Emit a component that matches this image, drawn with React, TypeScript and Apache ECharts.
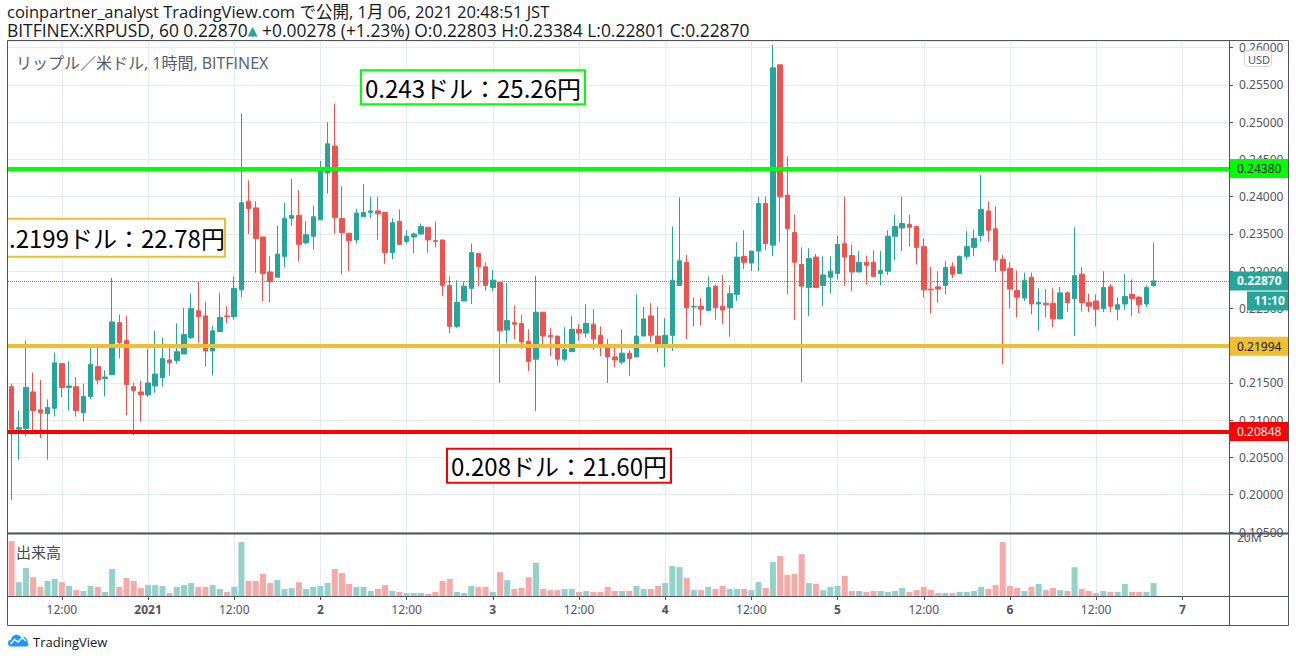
import React, { useEffect, useRef } from "react";
import * as echarts from "echarts";

// ---- data (XRP/USD, 1h, BITFINEX, Dec 31 05:00 – Jan 6 20:00 JST) ----
const opens = [
  0.2145, 0.2088, 0.2089, 0.2138, 0.2114, 0.2109, 0.2116, 0.2176, 0.2144, 0.2145,
  0.2110, 0.2132, 0.2172, 0.2156, 0.2161, 0.2231, 0.2207, 0.2145, 0.2138, 0.2134,
  0.2146, 0.2157, 0.2181, 0.2180, 0.2189, 0.2211, 0.2247, 0.2240, 0.2193, 0.2219,
  0.2240, 0.2239, 0.2275, 0.2394, 0.2385, 0.2346, 0.2299, 0.2292, 0.2320, 0.2371,
  0.2375, 0.2338, 0.2347, 0.2369, 0.2432, 0.2468, 0.2371, 0.2351, 0.2342, 0.2373,
  0.2379, 0.2381, 0.2379, 0.2325, 0.2367, 0.2340, 0.2346, 0.2350, 0.2359, 0.2341,
  0.2342, 0.2281, 0.2226, 0.2260, 0.2277, 0.2324, 0.2306, 0.2278, 0.2285, 0.2221,
  0.2231, 0.2230, 0.2206, 0.2182, 0.2245, 0.2214, 0.2213, 0.2182, 0.2192, 0.2222,
  0.2217, 0.2229, 0.2214, 0.2197, 0.2185, 0.2178, 0.2190, 0.2185, 0.2213, 0.2240,
  0.2213, 0.2199, 0.2214, 0.2281, 0.2312, 0.2252, 0.2253, 0.2247, 0.2280, 0.2253,
  0.2251, 0.2269, 0.2320, 0.2311, 0.2327, 0.2391, 0.2335, 0.2577, 0.2402, 0.2352,
  0.2309, 0.2278, 0.2319, 0.2281, 0.2292, 0.2297, 0.2337, 0.2321, 0.2299, 0.2312,
  0.2312, 0.2297, 0.2300, 0.2347, 0.2358, 0.2363, 0.2360, 0.2333, 0.2276, 0.2279,
  0.2281, 0.2306, 0.2297, 0.2320, 0.2332, 0.2348, 0.2381, 0.2357, 0.2316, 0.2304,
  0.2274, 0.2264, 0.2292, 0.2256, 0.2257, 0.2257, 0.2236, 0.2271, 0.2263, 0.2296,
  0.2258, 0.2260, 0.2250, 0.2279, 0.2249, 0.2256, 0.2269, 0.2265, 0.2256, 0.22803,
];
const closes = [
  0.2088, 0.2090, 0.2144, 0.2113, 0.2110, 0.2117, 0.2177, 0.2144, 0.2146, 0.2113,
  0.2132, 0.2175, 0.2154, 0.2158, 0.2232, 0.2204, 0.2148, 0.2140, 0.2134, 0.2150,
  0.2162, 0.2183, 0.2177, 0.2192, 0.2215, 0.2250, 0.2239, 0.2193, 0.2220, 0.2238,
  0.2239, 0.2277, 0.2392, 0.2384, 0.2344, 0.2297, 0.2286, 0.2323, 0.2371, 0.2375,
  0.2336, 0.2349, 0.2373, 0.2434, 0.2471, 0.2372, 0.2352, 0.2341, 0.2378, 0.2379,
  0.2381, 0.2377, 0.2325, 0.2365, 0.2336, 0.2347, 0.2350, 0.2360, 0.2342, 0.2340,
  0.2281, 0.2226, 0.2258, 0.2280, 0.2325, 0.2306, 0.2281, 0.2288, 0.2220, 0.2234,
  0.2229, 0.2205, 0.2179, 0.2245, 0.2213, 0.2212, 0.2182, 0.2195, 0.2222, 0.2217,
  0.2230, 0.2209, 0.2202, 0.2185, 0.2181, 0.2190, 0.2183, 0.2213, 0.2236, 0.2214,
  0.2199, 0.2214, 0.2288, 0.2314, 0.2251, 0.2253, 0.2249, 0.2278, 0.2251, 0.2248,
  0.2270, 0.2319, 0.2312, 0.2327, 0.2391, 0.2337, 0.2573, 0.2400, 0.2357, 0.2312,
  0.2280, 0.2317, 0.2278, 0.2295, 0.2300, 0.2336, 0.2319, 0.2299, 0.2312, 0.2308,
  0.2293, 0.2301, 0.2347, 0.2360, 0.2364, 0.2359, 0.2332, 0.2275, 0.2275, 0.2276,
  0.2305, 0.2296, 0.2320, 0.2333, 0.2344, 0.2383, 0.2355, 0.2315, 0.2301, 0.2276,
  0.2265, 0.2288, 0.2256, 0.2258, 0.2255, 0.2236, 0.2271, 0.2258, 0.2294, 0.2258,
  0.2253, 0.2249, 0.2278, 0.2253, 0.2255, 0.2266, 0.2263, 0.2255, 0.2278, 0.2287,
];
const lows = [
  0.1993, 0.2047, 0.2078, 0.2081, 0.2076, 0.2047, 0.2105, 0.2131, 0.2113, 0.2105,
  0.2098, 0.2128, 0.2148, 0.2132, 0.2161, 0.2183, 0.2107, 0.2080, 0.2098, 0.2131,
  0.2137, 0.2145, 0.2160, 0.2176, 0.2189, 0.2209, 0.2204, 0.2172, 0.2160, 0.2219,
  0.2230, 0.2235, 0.2265, 0.2350, 0.2298, 0.2260, 0.2258, 0.2292, 0.2305, 0.2361,
  0.2313, 0.2336, 0.2329, 0.2369, 0.2404, 0.2350, 0.2296, 0.2300, 0.2337, 0.2373,
  0.2371, 0.2342, 0.2310, 0.2316, 0.2336, 0.2337, 0.2324, 0.2350, 0.2325, 0.2332,
  0.2267, 0.2217, 0.2224, 0.2260, 0.2256, 0.2280, 0.2274, 0.2273, 0.2150, 0.2203,
  0.2209, 0.2196, 0.2166, 0.2112, 0.2202, 0.2186, 0.2173, 0.2179, 0.2192, 0.2207,
  0.2211, 0.2194, 0.2186, 0.2150, 0.2171, 0.2175, 0.2159, 0.2185, 0.2213, 0.2205,
  0.2191, 0.2171, 0.2193, 0.2281, 0.2209, 0.2226, 0.2227, 0.2247, 0.2235, 0.2229,
  0.2212, 0.2260, 0.2303, 0.2300, 0.2300, 0.2328, 0.2320, 0.2339, 0.2269, 0.2235,
  0.2151, 0.2240, 0.2278, 0.2253, 0.2270, 0.2289, 0.2280, 0.2273, 0.2299, 0.2282,
  0.2293, 0.2281, 0.2295, 0.2315, 0.2327, 0.2333, 0.2309, 0.2265, 0.2243, 0.2258,
  0.2269, 0.2291, 0.2297, 0.2316, 0.2320, 0.2340, 0.2340, 0.2299, 0.2175, 0.2250,
  0.2238, 0.2260, 0.2242, 0.2220, 0.2238, 0.2225, 0.2236, 0.2245, 0.2213, 0.2246,
  0.2245, 0.2226, 0.2245, 0.2245, 0.2234, 0.2248, 0.2240, 0.2244, 0.2252, 0.22801,
];
const highs = [
  0.2149, 0.2113, 0.2207, 0.2164, 0.2154, 0.2128, 0.2191, 0.2176, 0.2179, 0.2158,
  0.2149, 0.2198, 0.2198, 0.2167, 0.2291, 0.2242, 0.2240, 0.2150, 0.2153, 0.2196,
  0.2220, 0.2211, 0.2198, 0.2230, 0.2251, 0.2270, 0.2287, 0.2259, 0.2227, 0.2271,
  0.2253, 0.2293, 0.2512, 0.2422, 0.2394, 0.2346, 0.2320, 0.2361, 0.2392, 0.2424,
  0.2409, 0.2367, 0.2388, 0.2448, 0.2500, 0.2525, 0.2414, 0.2351, 0.2384, 0.2417,
  0.2400, 0.2400, 0.2379, 0.2371, 0.2383, 0.2355, 0.2352, 0.2364, 0.2359, 0.2367,
  0.2342, 0.2293, 0.2288, 0.2286, 0.2337, 0.2324, 0.2312, 0.2302, 0.2285, 0.2284,
  0.2254, 0.2241, 0.2222, 0.2294, 0.2245, 0.2224, 0.2213, 0.2225, 0.2240, 0.2229,
  0.2256, 0.2249, 0.2226, 0.2209, 0.2197, 0.2222, 0.2194, 0.2269, 0.2252, 0.2257,
  0.2252, 0.2237, 0.2360, 0.2399, 0.2322, 0.2265, 0.2264, 0.2293, 0.2282, 0.2295,
  0.2281, 0.2339, 0.2355, 0.2327, 0.2400, 0.2400, 0.2604, 0.2577, 0.2454, 0.2376,
  0.2332, 0.2331, 0.2323, 0.2320, 0.2320, 0.2348, 0.2400, 0.2336, 0.2327, 0.2321,
  0.2328, 0.2327, 0.2355, 0.2376, 0.2400, 0.2376, 0.2360, 0.2344, 0.2306, 0.2300,
  0.2314, 0.2312, 0.2321, 0.2354, 0.2356, 0.2429, 0.2393, 0.2387, 0.2322, 0.2312,
  0.2301, 0.2298, 0.2298, 0.2277, 0.2276, 0.2277, 0.2279, 0.2273, 0.2359, 0.2305,
  0.2270, 0.2269, 0.2300, 0.2283, 0.2265, 0.2296, 0.2289, 0.2267, 0.2281, 0.23384,
];
// volume in millions
const volumes = [
  18.6, 4.7, 9.5, 6.4, 3.1, 5.1, 5.8, 4.7, 3.4, 2.0,
  1.7, 3.4, 3.1, 1.4, 9.2, 3.1, 6.1, 5.1, 2.7, 3.7,
  3.7, 3.4, 1.0, 3.1, 3.7, 4.4, 3.1, 3.1, 3.7, 2.4,
  1.4, 3.1, 18.3, 5.1, 5.1, 7.5, 4.4, 5.4, 2.4, 2.7,
  4.7, 2.4, 3.1, 3.4, 4.4, 9.2, 7.8, 4.1, 3.1, 3.1,
  1.7, 2.4, 3.7, 1.7, 1.4, 1.0, 1.0, 1.0, 0.7, 1.4,
  5.1, 5.8, 1.4, 1.0, 3.4, 3.1, 3.1, 1.4, 8.1, 5.4,
  2.4, 2.7, 6.4, 11.2, 2.4, 2.0, 2.0, 2.4, 2.4, 1.4,
  1.7, 1.4, 1.4, 3.1, 1.7, 1.7, 1.7, 3.4, 2.4, 2.4,
  3.4, 4.4, 10.2, 9.8, 6.1, 2.0, 2.0, 3.1, 2.4, 3.4,
  2.4, 2.4, 2.4, 2.0, 4.7, 2.7, 11.5, 13.6, 7.1, 7.5,
  14.2, 4.4, 4.1, 2.0, 3.1, 3.4, 6.8, 1.7, 1.7, 1.4,
  1.7, 1.7, 1.4, 1.7, 2.7, 1.4, 2.0, 3.1, 2.0, 1.0,
  1.0, 1.0, 1.4, 1.4, 1.7, 3.1, 2.4, 3.7, 18.3, 3.4,
  2.7, 1.7, 3.1, 4.1, 2.0, 2.7, 2.0, 1.7, 9.8, 2.4,
  1.7, 1.0, 1.7, 1.4, 1.4, 4.1, 1.4, 1.4, 1.4, 4.4,
];
const SLOT_COUNT = 170; // hourly slots incl. empty space on the right
const tickIndex = [7, 19, 31, 43, 55, 67, 79, 91, 103, 115, 127, 139, 151, 163];
const tickText = ["12:00", "2021", "12:00", "2", "12:00", "3", "12:00", "4", "12:00", "5", "12:00", "6", "12:00", "7"];
const resistance = 0.2438;
const support1 = 0.21994;
const support2 = 0.20848;
const lastClose = 0.2287;
const annotationTexts = ["0.243ドル：25.26円", ".2199ドル：22.78円", "0.208ドル：21.60円"];
const headerLine1 = "coinpartner_analyst TradingView.com で公開, 1月 06, 2021 20:48:51 JST";
const headerLine2a = "BITFINEX:XRPUSD, 60 0.22870";
const headerLine2b = " +0.00278 (+1.23%) O:0.22803 H:0.23384 L:0.22801 C:0.22870";
const legendText = "リップル／米ドル, 1時間, BITFINEX";
const volumeTitle = "出来高";
const countdownText = "11:10";

const UP = "#26a69a";
const DOWN = "#ef5350";
const VOL_UP = "#94d1cb";
const VOL_DOWN = "#f7a9a7";
const GRID = "#e3ebf1";
const FRAME = "#50535e";
const AXIS_TEXT = "#50535e";
const GREEN = "#00ff00";
const YELLOW = "#f0bf30";
const RED = "#ff0000";
const FONT = "'Noto Sans', 'Noto Sans CJK JP', sans-serif";
const JPFONT = "'Noto Sans CJK JP', 'Noto Sans', sans-serif";
const HEADFONT = "'Open Sans', 'Noto Sans CJK JP', sans-serif";

echarts.graphic.registerShape(
  "tvlogo",
  echarts.graphic.extendPath(
    "M4 16 C1.5 16 0 14 0 12 C0 9.8 1.6 8.2 3.6 8 C4 4.5 6.8 2 10 2 C12.3 2 14.3 3.2 15.4 5 C16 4.7 16.7 4.5 17.5 4.5 C20.5 4.5 23 7 23 10 C23 10.3 23 10.6 22.9 10.9 C23.6 11.6 24 12.5 24 13.5 C24 15 22.8 16 21.3 16 Z",
    {}
  ) as any
);

export default function App() {
  const ref = useRef<HTMLDivElement>(null);

  useEffect(() => {
    if (!ref.current) return;
    const chart = echarts.init(ref.current, undefined, { renderer: "svg" });
    const categories: string[] = [];
    for (let i = 0; i < SLOT_COUNT; i++) categories.push(String(i));
    const tickSet = new Set(tickIndex);
    const labelAt = (i: number) => {
      const k = tickIndex.indexOf(i);
      if (k < 0) return "";
      const t = tickText[k];
      return t.indexOf(":") >= 0 ? t : "{b|" + t + "}";
    };
    const intervalFn = (i: number) => tickSet.has(i);

    const candleData = opens.map((o, i) => [o, closes[i], lows[i], highs[i]]);
    const volData = volumes.map((v, i) => ({
      value: v,
      itemStyle: { color: closes[i] >= opens[i] ? VOL_UP : VOL_DOWN },
    }));

    const option: any = {
      animation: false,
      backgroundColor: "#ffffff",
      textStyle: { fontFamily: FONT },
      grid: [
        { left: 8, right: 67, top: 41, height: 491 },
        { left: 8, right: 67, top: 535, height: 61 },
      ],
      xAxis: [
        {
          type: "category",
          gridIndex: 0,
          data: categories,
          boundaryGap: true,
          axisLine: { show: false },
          axisTick: { show: false },
          axisLabel: { show: false },
          splitLine: { show: true, interval: intervalFn, alignWithLabel: true, lineStyle: { color: GRID, width: 1 } },
        },
        {
          type: "category",
          gridIndex: 1,
          data: categories,
          boundaryGap: true,
          axisLine: { show: true, lineStyle: { color: FRAME } },
          axisTick: { show: true, interval: intervalFn, alignWithLabel: true, length: 4, lineStyle: { color: FRAME } },
          axisLabel: {
            interval: intervalFn,
            formatter: (_v: string, i: number) => labelAt(i),
            color: AXIS_TEXT,
            fontSize: 12,
            margin: 7,
            rich: { b: { fontWeight: "bold", color: AXIS_TEXT, fontSize: 12 } },
          },
          splitLine: { show: true, interval: intervalFn, alignWithLabel: true, lineStyle: { color: GRID, width: 1 } },
        },
      ],
      yAxis: [
        {
          type: "value",
          gridIndex: 0,
          position: "right",
          min: 0.195,
          max: 0.2609,
          interval: 0.005,
          axisLine: { show: false },
          axisTick: { show: true, length: 4, lineStyle: { color: FRAME } },
          axisLabel: {
            color: AXIS_TEXT,
            fontSize: 12,
            margin: 10,
            showMaxLabel: false,
            formatter: (v: number) => {
              const r = Math.round(v * 200);
              return Math.abs(v * 200 - r) < 1e-6 ? v.toFixed(5) : "";
            },
          },
          splitLine: { show: true, lineStyle: { color: GRID, width: 1 } },
        },
        {
          type: "value",
          gridIndex: 1,
          position: "right",
          min: 0,
          max: 20.7,
          interval: 20,
          axisLine: { show: false },
          axisTick: { show: false },
          axisLabel: {
            color: AXIS_TEXT,
            fontSize: 12,
            margin: 8,
            showMaxLabel: false,
            formatter: (v: number) => (v === 20 ? "20M" : ""),
          },
          splitLine: { show: false },
        },
      ],
      series: [
        {
          type: "candlestick",
          xAxisIndex: 0,
          yAxisIndex: 0,
          data: candleData,
          barWidth: 5,
          emphasis: { disabled: true },
          itemStyle: {
            color: UP,
            color0: DOWN,
            borderColor: UP,
            borderColor0: DOWN,
            borderWidth: 1,
          },
          markLine: {
            silent: true,
            precision: 6,
            symbol: ["none", "none"],
            label: { show: false },
            emphasis: { disabled: true },
            data: [
              { yAxis: lastClose, lineStyle: { color: UP, type: "dotted", width: 1 } },
              { yAxis: resistance, lineStyle: { color: GREEN, type: "solid", width: 4 } },
              { yAxis: support1, lineStyle: { color: YELLOW, type: "solid", width: 4 } },
              { yAxis: support2, lineStyle: { color: RED, type: "solid", width: 4 } },
            ],
          },
        },
        {
          type: "bar",
          xAxisIndex: 1,
          yAxisIndex: 1,
          data: volData,
          barWidth: 6,
          emphasis: { disabled: true },
        },
      ],
    };
    chart.setOption(option);

    const py = (v: number) => chart.convertToPixel({ yAxisIndex: 0 } as any, v) as number;

    const textStyle = (text: string, fill: string, font: string, align = "left") => ({
      text,
      fill,
      font,
      textAlign: align,
      align,
      textVerticalAlign: "middle",
      verticalAlign: "middle",
    });

    const badge = (val: number, text: string, bg: string, fg: string, bold: boolean, x = 1230, w = 59, dy = 0) => {
      const yy = py(val) + dy;
      return [
        { type: "rect", z: 200, shape: { x, y: yy - 9.5, width: w, height: 19 }, style: { fill: bg } },
        {
          type: "text",
          z: 201,
          x: x + 7,
          y: yy,
          style: textStyle(text, fg, (bold ? "bold " : "") + "12px " + FONT),
        },
      ];
    };

    const annot = (cy: number, w: number, h: number, x0: number, text: string, color: string, tx: number, talign: string) => [
      {
        type: "rect",
        z: 150,
        shape: { x: x0, y: cy - h / 2, width: w, height: h },
        style: { fill: "#ffffff", stroke: color, lineWidth: 2 },
      },
      {
        type: "text",
        z: 151,
        x: tx,
        y: cy,
        style: textStyle(text, "#000000", "24px " + JPFONT, talign),
      },
    ];

    const txt = (x: number, y: number, text: string, size: number, fill: string, family = FONT) => ({
      type: "text",
      x,
      y,
      z: 150,
      style: textStyle(text, fill, size + "px " + family),
    });

    const graphics: any[] = [
      // annotation boxes
      ...annot(py(0.2547), 224, 34, 361, annotationTexts[0], GREEN, 473, "center"),
      ...annot(py(0.2345), 245, 38, -20, annotationTexts[1], YELLOW, 9, "left"),
      ...annot(py(0.2039), 224, 34, 447, annotationTexts[2], RED, 559, "center"),
      // white margin left of the pane (clips the yellow box)
      { type: "rect", z: 160, shape: { x: 0, y: 41, width: 7.5, height: 590 }, style: { fill: "#ffffff" } },
      // frame
      { type: "rect", z: 300, shape: { x: 7.5, y: 40.5, width: 1281, height: 585 }, style: { fill: "none", stroke: FRAME, lineWidth: 1 } },
      { type: "line", z: 300, shape: { x1: 1229.5, y1: 40, x2: 1229.5, y2: 626 }, style: { stroke: FRAME, lineWidth: 1 } },
      { type: "line", z: 300, shape: { x1: 7, y1: 533.5, x2: 1289, y2: 533.5 }, style: { stroke: FRAME, lineWidth: 2 } },
      { type: "line", z: 300, shape: { x1: 7, y1: 596.5, x2: 1289, y2: 596.5 }, style: { stroke: FRAME, lineWidth: 1 } },
      // header
      txt(7, 11, headerLine1, 16.5, "#131722", HEADFONT),
      {
        type: "text",
        x: 7,
        y: 30,
        z: 150,
        style: {
          ...textStyle("{a|" + headerLine2a + "}{u|▲}{a|" + headerLine2b + "}", "#131722", "17.4px " + HEADFONT),
          rich: {
            a: { fill: "#131722", color: "#131722", fontSize: 17.4, fontFamily: HEADFONT },
            u: { fill: UP, color: UP, fontSize: 13, fontFamily: "'DejaVu Sans', sans-serif" },
          },
        },
      },
      // legend inside chart
      txt(16, 63, legendText, 16, "#555a66", HEADFONT),
      txt(16, 551, volumeTitle, 15, "#444850", JPFONT),
      // USD badge
      { type: "rect", z: 150, shape: { x: 1244.5, y: 50.5, width: 27, height: 16, r: 3 }, style: { fill: "#ffffff", stroke: "#d1d4dc", lineWidth: 1 } },
      txt(1248, 59, "USD", 11, "#50535e"),
      // price badges
      ...badge(resistance, "0.24380", GREEN, "#131722", false),
      ...badge(lastClose, "0.22870", UP, "#ffffff", true),
      ...badge(lastClose, countdownText, UP, "#ffffff", true, 1247, 42, 20),
      ...badge(support1, "0.21994", YELLOW, "#131722", false),
      ...badge(support2, "0.20848", RED, "#ffffff", false),
      // TradingView logo
      { type: "tvlogo", z: 150, x: 8, y: 633, scaleX: 0.85, scaleY: 0.85, style: { fill: "#2196f3" } },
      {
        type: "polyline",
        z: 151,
        shape: { points: [[10.5, 644], [14.5, 639.5], [18, 642], [22.5, 637.5], [26, 641]] },
        style: { stroke: "#ffffff", lineWidth: 1.5, fill: "none" },
      },
      txt(33, 642, "TradingView", 13, "#131722", "'Open Sans', sans-serif"),
    ];
    chart.setOption({ graphic: graphics });

    return () => chart.dispose();
  }, []);

  return (
    <div
      ref={ref}
      style={{ position: "absolute", left: 0, top: 0, width: 1296, height: 661, background: "#ffffff" }}
    />
  );
}
